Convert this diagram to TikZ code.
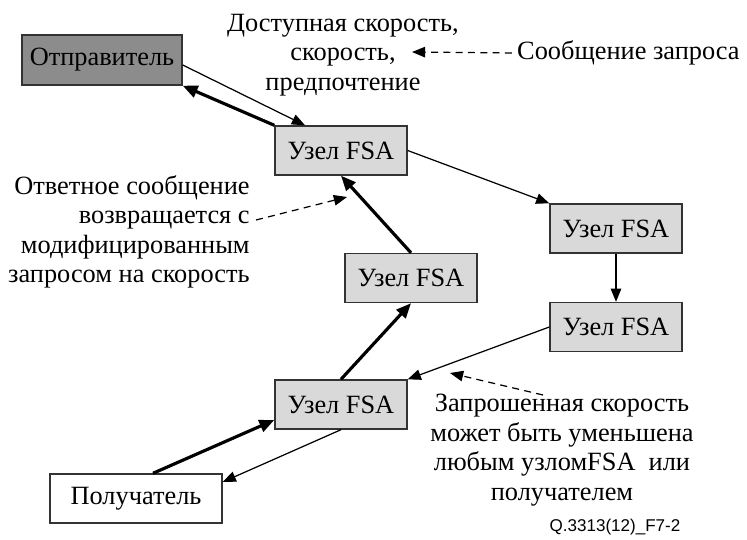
\documentclass[tikz,border=0pt]{standalone}
\usepackage{fontspec}
\setmainfont{Liberation Serif}
\newfontfamily\rufont{Liberation Serif}
\newfontfamily\figlabel{Liberation Sans}
\usetikzlibrary{arrows.meta,calc}
\definecolor{fsafill}{HTML}{D9D9D9}
\definecolor{senderfill}{HTML}{8C8C8C}
\definecolor{edgegray}{HTML}{333333}

\begin{document}
\begin{tikzpicture}[x=0.02cm, y=-0.02cm,
  unit/.style={fill=#1, draw=edgegray, line width=0.8pt, minimum width=2.64cm, minimum height=0.98cm, inner sep=0pt, font=\rufont\fontsize{15}{16.8}\selectfont},
  note/.style={font=\rufont\fontsize{15}{16.8}\selectfont, inner sep=0pt, align=#1},
  fwd/.style={line width=0.7pt, -{Triangle[length=7.5pt,width=6pt]}},
  ret/.style={line width=1.8pt, -{Triangle[length=8.5pt,width=7pt]}},
  hint/.style={line width=0.7pt, dash pattern=on 4pt off 3pt, -{Triangle[length=7.5pt,width=6pt]}}
]
  \useasboundingbox (0,0) rectangle (747,540);

  \node[unit=senderfill, minimum width=3.2cm, minimum height=1cm] (snd) at (102,60) {Отправитель};
  \node[unit=fsafill] (fsa1) at (341,150.5) {Узел FSA};
  \node[unit=fsafill] (fsa2) at (616,228.5) {Узел FSA};
  \node[unit=fsafill] (fsa3) at (616,327) {Узел FSA};
  \node[unit=fsafill] (fsa5) at (411,278) {Узел FSA};
  \node[unit=fsafill] (fsa4) at (341,404.5) {Узел FSA};
  \node[unit=white, minimum width=3.44cm] (rcv) at (136,498.5) {Получатель};

  \draw[fwd] ([yshift=-0.1cm]snd.east) -- ([xshift=-0.72cm]fsa1.north);
  \draw[ret] (fsa1.north west) -- (snd.south east);
  \draw[fwd] (fsa1.east) -- (fsa2.north west);
  \draw[fwd] (fsa2.south) -- (fsa3.north);
  \draw[fwd] (fsa3.west) -- (fsa4.north east);
  \draw[ret] (fsa4.north) -- (fsa5.south);
  \draw[ret] (fsa5.north) -- (fsa1.south);
  \draw[ret] ([xshift=0.34cm]rcv.north) -- ([yshift=-0.31cm]fsa4.west);
  \draw[fwd] (fsa4.south) -- ([yshift=0.33cm]rcv.east);

  \node[note=center] (txtrate) at (343,55) {Доступная скорость,\\скорость,\\предпочтение};
  \node[note=left, anchor=east] (txtreq) at (740,53) {Сообщение запроса};
  \coordinate (reqtip) at (412,52);
  \draw[hint] ([xshift=-0.1cm]txtreq.west) -- (reqtip);

  \node[note=right, anchor=east] (txtreply) at (250,232) {Ответное сообщение\\возвращается с\\модифицированным\\запросом на скорость};
  \coordinate (replytail) at (256,220);
  \coordinate (replytip) at (347,197);
  \draw[hint] (replytail) -- (replytip);

  \node[note=center] (txtcut) at (562,450) {Запрошенная скорость\\может быть уменьшена\\любым узломFSA~~или\\получателем};
  \coordinate (cuttail) at (543,395);
  \coordinate (cuttip) at (450,373);
  \draw[hint] (cuttail) -- (cuttip);

  \node[font=\figlabel\fontsize{9.7}{11}\selectfont] (figid) at (615,527) {Q.3313(12)\_F7-2};
\end{tikzpicture}
\end{document}
